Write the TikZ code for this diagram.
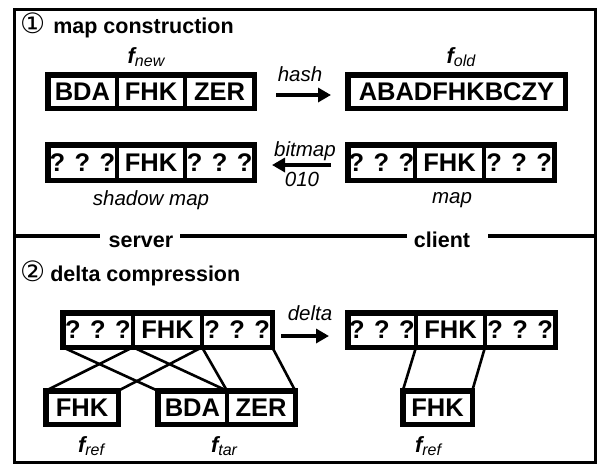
\documentclass[tikz,border=0pt]{standalone}
\usepackage{fontspec}
\setmainfont{Liberation Sans}
\newfontfamily\dejavu{DejaVu Sans}
\usetikzlibrary{arrows.meta}
\tikzset{
  cellbox/.style={draw, line width=3.5pt, inner sep=0pt, outer sep=0pt,
    font=\fontsize{25.5}{28}\selectfont\bfseries},
  boxframe/.style={line width=5.5pt},
  conn/.style={line width=2.6pt},
  arrowline/.style={line width=4pt, -{Triangle[length=13pt,width=14pt]}},
  italbl/.style={font=\fontsize{20.5}{24}\selectfont\itshape, inner sep=0pt},
  boldlbl/.style={font=\fontsize{21.5}{25}\selectfont\bfseries, inner sep=0pt},
  flbl/.style={inner sep=0pt, anchor=base},
  divline/.style={line width=4pt},
}
\newcommand\mycell[6]{%
  \node[cellbox, minimum width={(#3)-(#2)}, minimum height={(#5)-(#4)}]
    (#1) at ({((#2)+(#3))/2},{((#4)+(#5))/2}) {#6};}
\newcommand\fsub[2]{{\fontsize{22}{22}\selectfont\bfseries\itshape #1}{\fontsize{16}{16}\selectfont\itshape\raisebox{-3.5pt}{#2}}}
\begin{document}
\begin{tikzpicture}[x=1pt,y=-1pt]
\useasboundingbox (0,0) rectangle (600,464);
% outer frame
\draw[line width=3pt] (14,9) rectangle (595.5,462.5);
% ---------- section 1
\node[anchor=base west, inner sep=0pt] (title1) at (20,33)
  {{\dejavu\fontsize{28}{28}\selectfont ①}\hspace{8pt}{\fontsize{21.5}{25}\selectfont\bfseries map construction}};
% f_new
\mycell{na}{47.75}{117}{74.75}{108.25}{BDA}
\mycell{nb}{117}{185}{74.75}{108.25}{FHK}
\mycell{nc}{185}{254.25}{74.75}{108.25}{ZER}
\draw[boxframe] (na.north west) rectangle (nc.south east);
\node[flbl] (fnewlbl) at (146,63) {\fsub{f}{new}};
% f_old
\mycell{oa}{347.75}{565.25}{74.75}{108.25}{ABADFHKBCZY}
\draw[boxframe] (oa.north west) rectangle (oa.south east);
\node[flbl] (foldlbl) at (461,63) {\fsub{f}{old}};
% hash arrow
\coordinate (hashS) at (276,95);
\coordinate (hashE) at (331,95);
\draw[arrowline] (hashS) -- (hashE);
\node[italbl] (hashlbl) at (300,74) {hash};
% shadow map
\mycell{sa}{47.75}{117}{144.75}{180.25}{? ? ?}
\mycell{sb}{117}{185}{144.75}{180.25}{FHK}
\mycell{sc}{185}{254.25}{144.75}{180.25}{? ? ?}
\draw[boxframe] (sa.north west) rectangle (sc.south east);
\node[italbl] (shadowlbl) at (151,200) {shadow map};
% map
\mycell{ma}{347.75}{415}{144.75}{180.25}{? ? ?}
\mycell{mb}{415}{484}{144.75}{180.25}{FHK}
\mycell{mc}{484}{554.25}{144.75}{180.25}{? ? ?}
\draw[boxframe] (ma.north west) rectangle (mc.south east);
\node[italbl] (maplbl) at (452,200) {map};
% bitmap arrow
\coordinate (bmS) at (331,165);
\coordinate (bmE) at (272,165);
\draw[arrowline] (bmS) -- (bmE);
\node[italbl] (bmlbl) at (305,151) {bitmap};
\node[italbl] (bmnum) at (302,179) {010};
% ---------- divider
\node[boldlbl, anchor=base] (server) at (141,247) {server};
\node[boldlbl, anchor=base] (client) at (442,247) {client};
\coordinate (dA) at (14,236);
\coordinate (dB) at (100,236);
\coordinate (dC) at (180,236);
\coordinate (dD) at (407,236);
\coordinate (dE) at (488,236);
\coordinate (dF) at (595.5,236);
\draw[divline] (dA) -- (dB);
\draw[divline] (dC) -- (dD);
\draw[divline] (dE) -- (dF);
% ---------- section 2
\node[anchor=base west, inner sep=0pt] (title2) at (20,281)
  {{\dejavu\fontsize{28}{28}\selectfont ②}\hspace{5pt}{\fontsize{21.5}{25}\selectfont\bfseries delta compression}};
% server box
\mycell{pa}{62.75}{133}{312.75}{347.25}{? ? ?}
\mycell{pb}{133}{202}{312.75}{347.25}{FHK}
\mycell{pc}{202}{272.25}{312.75}{347.25}{? ? ?}
% client box
\mycell{qa}{347.75}{416}{312.75}{347.25}{? ? ?}
\mycell{qb}{416}{485}{312.75}{347.25}{FHK}
\mycell{qc}{485}{555.25}{312.75}{347.25}{? ? ?}
% bottom boxes
\mycell{ra}{45.75}{118.25}{390.75}{424.25}{FHK}
\mycell{ta}{157.75}{227}{390.75}{424.25}{BDA}
\mycell{tb}{227}{295.25}{390.75}{424.25}{ZER}
\mycell{ua}{402.75}{472.25}{390.75}{424.25}{FHK}
% connectors
\draw[conn] (pa.south west) -- (ta.north west);
\draw[conn] (pa.south east) -- (ta.north east);
\draw[conn] (pb.south west) -- (ra.north west);
\draw[conn] (pb.south east) -- (ra.north east);
\draw[conn] (pc.south west) -- (tb.north west);
\draw[conn] (pc.south east) -- (tb.north east);
\draw[conn] (qb.south west) -- (ua.north west);
\draw[conn] (qb.south east) -- (ua.north east);
% frames
\draw[boxframe] (pa.north west) rectangle (pc.south east);
\draw[boxframe] (qa.north west) rectangle (qc.south east);
\draw[boxframe] (ra.north west) rectangle (ra.south east);
\draw[boxframe] (ta.north west) rectangle (tb.south east);
\draw[boxframe] (ua.north west) rectangle (ua.south east);
% delta arrow
\coordinate (dlS) at (281,336);
\coordinate (dlE) at (329,336);
\draw[arrowline] (dlS) -- (dlE);
\node[italbl] (dlbl) at (310,313) {delta};
% labels
\node[flbl] (freflbl) at (91,452) {\fsub{f}{ref}};
\node[flbl] (ftarlbl) at (224,452) {\fsub{f}{tar}};
\node[flbl] (fref2lbl) at (428,452) {\fsub{f}{ref}};
\end{tikzpicture}
\end{document}
